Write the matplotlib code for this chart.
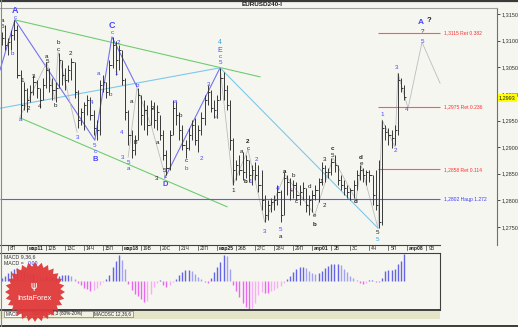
import numpy as np
import matplotlib.pyplot as plt
from matplotlib.patches import Polygon, Rectangle
from matplotlib.transforms import blended_transform_factory

plt.rcParams['font.family'] = ['Liberation Sans', 'DejaVu Sans']

# 4H bars, EURUSD, price * 1e4, first bar index = -2 (day ticks every 6 bars)
first_bar = -2
highs = [13116, 13129, 13105, 13120, 13139, 13129, 13045, 13022, 13011, 13017,
         13035, 13026, 13011, 13030, 13060, 13049, 13030, 13022, 13077, 13064,
         13049, 13054, 13067, 13060, 13007, 12973, 12985, 12998, 12994, 12970,
         12951, 13026, 13035, 13022, 13064, 13107, 13099, 13092, 13082, 13030,
         12970, 12932, 12923, 13011, 12998, 12988, 12979, 12988, 12985, 12979,
         12960, 12932, 12895, 12932, 12988, 12985, 12966, 12942, 12913, 12936,
         12951, 12955, 12942, 12966, 12998, 13017, 13007, 12988, 12998, 13049,
         13041, 13017, 12988, 12917, 12876, 12885, 12891, 12885, 12876, 12866,
         12872, 12866, 12857, 12810, 12801, 12804, 12810, 12829, 12819, 12853,
         12848, 12842, 12838, 12835, 12829, 12835, 12823, 12810, 12819, 12829,
         12842, 12872, 12866, 12861, 12880, 12885, 12866, 12848, 12838, 12829,
         12823, 12838, 12857, 12866, 12861, 12857, 12857, 12848, 12857, 12876,
         12951, 12942, 12936, 12932, 12942, 13039, 13030, 13017]
lows = [13092, 13082, 13073, 13082, 13101, 13030, 12955, 12970, 12966, 12985,
        12998, 12992, 12973, 12988, 13011, 13004, 12988, 12985, 13011, 13017,
        13007, 13022, 13026, 12992, 12936, 12942, 12932, 12960, 12951, 12923,
        12913, 12923, 13004, 12992, 12998, 13049, 13035, 13045, 13017, 12951,
        12904, 12880, 12885, 12913, 12942, 12932, 12923, 12942, 12936, 12932,
        12913, 12876, 12848, 12857, 12923, 12942, 12913, 12895, 12880, 12895,
        12913, 12904, 12891, 12923, 12942, 12979, 12966, 12955, 12955, 12988,
        12988, 12970, 12895, 12829, 12838, 12848, 12838, 12842, 12835, 12829,
        12838, 12816, 12782, 12759, 12763, 12778, 12782, 12791, 12759, 12773,
        12810, 12801, 12804, 12801, 12791, 12801, 12778, 12773, 12778, 12801,
        12797, 12829, 12835, 12842, 12848, 12853, 12829, 12819, 12810, 12804,
        12801, 12804, 12819, 12838, 12835, 12829, 12835, 12791, 12782, 12748,
        12754, 12913, 12904, 12898, 12904, 12923, 13004, 12988]
closes = [13105, 13092, 13097, 13111, 13120, 13035, 12979, 13007, 12988, 13004,
          13022, 13011, 12988, 13017, 13045, 13017, 13007, 13011, 13064, 13035,
          13026, 13045, 13060, 13004, 12951, 12966, 12979, 12988, 12960, 12936,
          12932, 13017, 13022, 13004, 13054, 13092, 13064, 13082, 13026, 12966,
          12923, 12895, 12913, 12998, 12960, 12970, 12942, 12973, 12951, 12966,
          12923, 12885, 12861, 12923, 12973, 12960, 12932, 12904, 12898, 12923,
          12942, 12913, 12932, 12955, 12988, 13004, 12973, 12970, 12988, 13030,
          13007, 12979, 12913, 12857, 12866, 12857, 12853, 12876, 12848, 12857,
          12848, 12829, 12801, 12773, 12791, 12797, 12801, 12816, 12773, 12842,
          12835, 12819, 12829, 12810, 12816, 12823, 12791, 12801, 12810, 12819,
          12835, 12861, 12853, 12853, 12872, 12866, 12838, 12829, 12823, 12816,
          12819, 12829, 12848, 12857, 12848, 12853, 12848, 12810, 12791, 12759,
          12936, 12928, 12923, 12917, 12932, 13026, 13011, 12994]

# MACD histogram (x1e-5)
macd_hist = [3, 5, 8, 10, 12, 13, 12, 10, 8, 7,
             7, 6, 5, 4, 5, 4, 4, 4, 5, 6,
             6, 6, 5, 2, -2, -4, -7, -8, -10, -9,
             -7, -4, -1, 2, 6, 14, 20, 26, 21, 12,
             -3, -9, -13, -15, -18, -21, -20, -13, -6, -2,
             1, -4, -6, -4, -1, 2, 6, 9, 11, 11,
             10, 7, 4, 2, -1, -2, 3, 9, 14, 19,
             26, 25, 12, -4, -10, -16, -22, -26, -29, -27,
             -22, -14, -11, -12, -12, -10, -9, -7, -5, -2,
             2, 5, 9, 12, 14, 14, 13, 10, 8, 7,
             8, 10, 13, 15, 17, 17, 17, 16, 12, 9,
             5, 3, 1, -2, -3, -2, 1, 1, -1, -1,
             3, 10, 11, 11, 12, 17, 20, 27]

price_ticks = [1.2750, 1.2800, 1.2850, 1.2900, 1.2950, 1.3000, 1.3050, 1.3100, 1.3150]
last_price = 1.2993

day_labels = ["8П", "мар11", "12В", "13С", "14Ч", "15П", "мар18", "19В", "20С", "21Ч",
              "22П", "мар25", "26В", "27С", "28Ч", "29П", "апр01", "2В", "3С", "4Ч",
              "5П", "апр08", "9В"]
bars_per_day = 6

fib_levels = [1.3115, 1.2975, 1.2858]
fib_names = ["1,3115 Ret 0.382", "1,2975 Ret 0.236", "1,2858 Ret 0.114"]
ext_level = 1.2802
ext_name = "1,2802 Нацр 1.272"

# wave lines (bar, price*1e4)
green_lines = [[(2.2, 13139), (79.5, 13032)], [(3.8, 12955), (69.1, 12788)]]
cyan_lines = [[(-2.5, 12973), (66.9, 13049)], [(66.9, 13049), (116.7, 12748)]]
blue_lines = [[(-2.5, 13045), (2.2, 13139), (27.4, 12913), (32.8, 13107), (40.7, 13013)],
              [(49.5, 12842), (66.9, 13049)]]
gray_lines = [[(3.8, 12957), (12.3, 13060), (14.8, 12988), (15.8, 13079), (21.8, 12928)],
              [(37.9, 12881), (40.7, 13011), (45.4, 12936), (49.5, 12848)],
              [(66.9, 13049), (71, 12829), (75.7, 12895), (81, 12759), (87.4, 12848),
               (96.8, 12773), (102.5, 12880), (109.8, 12801), (111.4, 12866), (116.7, 12748)],
              [(116.7, 12748), (118, 12951), (122.1, 12900), (123, 13039), (126.2, 12973),
               (130.6, 13097), (136.3, 13020)]]

# wave labels: bar, price*1e4, text, colour, size, bold
BL, BK, CY, PK = '#4646ff', '#202020', '#30a8e0', '#ff50ff'
wave_labels = [
    (2.2, 13156, "A", BL, 6.5, True), (2.2, 13144, "c", BL, 4.5, False),
    (-1.6, 13137, "a", BK, 4.5, False), (-1.6, 13127, "5", BK, 4.5, False),
    (1.3, 13075, "b", BL, 4.5, False), (4.1, 12951, "a", BL, 4.5, False),
    (4.4, 13026, "1", BK, 4.5, False), (6.3, 12973, "2", BK, 4.5, False),
    (8.2, 13032, "3", BK, 4.5, False), (10.1, 12977, "4", BK, 4.5, False),
    (12.3, 13071, "a", BK, 4.5, False), (12.3, 13060, "5", BK, 4.5, False),
    (14.8, 12979, "b", BK, 4.5, False), (15.8, 13097, "b", BK, 4.5, False),
    (15.8, 13084, "c", BK, 4.5, False), (19.6, 13075, "2", BK, 4.5, False),
    (21.8, 12919, "3", BL, 4.5, False), (26.5, 12983, "4", BL, 4.5, False),
    (27.4, 12904, "5", BL, 4.5, False), (27.4, 12891, "c", BL, 4.5, False),
    (27.4, 12876, "B", BL, 5.5, True), (28.4, 13039, "a", BL, 4.5, False),
    (32.2, 12998, "b", BL, 4.5, False), (32.8, 13129, "C", BL, 6.5, True),
    (32.8, 13116, "c", BL, 4.5, False), (34.1, 13039, "1", BL, 4.5, False),
    (34.7, 13096, "2", BL, 4.5, False), (36.0, 12928, "4", BL, 4.5, False),
    (36.0, 12881, "3", BL, 4.5, False), (37.9, 12872, "5", BL, 4.5, False),
    (37.9, 12859, "a", BL, 4.5, False), (40.7, 13015, "b", BL, 4.5, False),
    (40.2, 12908, "b", BK, 4.5, False), (39.1, 12985, "a", BK, 4.5, False),
    (45.7, 12973, "2", BK, 4.5, False), (47.3, 12908, "a", BK, 4.5, False),
    (47.0, 12842, "3", BK, 4.5, False), (49.5, 12857, "5", BK, 4.5, False),
    (49.5, 12844, "c", BL, 4.5, False), (49.5, 12829, "D", BL, 5.5, True),
    (52.7, 12985, "a", BL, 4.5, False), (54.3, 12960, "b", BK, 4.5, False),
    (56.2, 12874, "c", BK, 4.5, False), (56.2, 12859, "b", BL, 4.5, False),
    (60.9, 12878, "2", BL, 4.5, False), (65.9, 12955, "4", BL, 4.5, False),
    (63.1, 13017, "3", BL, 4.5, False), (66.9, 13096, "4", CY, 5, False),
    (66.9, 13082, "E", BL, 5, False), (66.9, 13070, "c", BL, 4.5, False),
    (66.9, 13059, "5", BL, 4.5, False), (71.0, 12819, "1", BK, 4.5, False),
    (73.8, 12891, "a", BK, 4.5, False), (75.7, 12910, "2", BK, 4.5, True),
    (75.7, 12898, "c", BK, 4.5, False), (74.8, 12835, "b", BK, 4.5, True),
    (76.3, 12835, "1", BL, 4.5, False), (78.5, 12876, "2", BL, 4.5, False),
    (81.0, 12742, "3", BL, 4.5, False), (86.1, 12746, "5", BL, 4.5, False),
    (86.1, 12733, "a", BK, 4.5, False), (85.2, 12823, "4", BL, 4.5, False),
    (89.3, 12819, "1", PK, 4.5, False), (87.4, 12855, "a", BK, 4.5, True),
    (89.9, 12846, "b", BK, 4.5, False), (91.0, 12797, "c", BK, 4.5, False),
    (95.0, 12827, "d", BK, 4.5, False), (96.8, 12771, "e", BK, 4.5, False),
    (96.8, 12754, "b", BK, 4.5, True), (98.7, 12835, "1", BK, 4.5, False),
    (99.7, 12791, "2", BK, 4.5, False), (100.0, 12876, "3", BK, 4.5, False),
    (102.5, 12898, "c", BK, 4.5, True), (102.5, 12885, "5", BK, 4.5, False),
    (109.8, 12797, "d", BK, 4.5, True), (111.4, 12881, "d", BK, 4.5, True),
    (111.4, 12870, "e", BK, 4.5, False), (116.7, 12739, "5", BK, 4.5, False),
    (116.7, 12726, "5", CY, 4.5, False), (118.0, 12962, "1", BL, 4.5, False),
    (122.1, 12893, "2", BL, 4.5, False), (122.7, 13049, "3", BL, 4.5, False),
    (125.9, 12970, "4", BL, 4.5, False), (130.6, 13099, "5", BL, 4.5, False),
    (130.6, 13118, "?", BK, 4.5, False), (130.3, 13135, "A", BL, 6, True),
    (132.8, 13137, "?", BK, 5.5, True),
]

W, H = 518, 327
fig = plt.figure(figsize=(W / 100, H / 100), dpi=100)
bg = '#f6f6f1'
fig.patch.set_facecolor(bg)

# ---------------- main price panel ----------------
ax = fig.add_axes([0, 1 - 245 / H, 497 / W, (245 - 8) / H])
ax.patch.set_visible(False)
ax.set_xlim(-2.52, 154.26)
ax.set_ylim(1.27162, 1.31613)

bars = np.arange(len(highs)) + first_bar
hi = np.array(highs) / 1e4
lo = np.array(lows) / 1e4
cl = np.array(closes) / 1e4
ax.vlines(bars, lo, hi, color='#383838', lw=0.7, zorder=3)
ax.hlines(cl, bars, bars + 0.7, color='#383838', lw=0.7, zorder=3)

for seg in green_lines:
    xs, ys = zip(*seg)
    ax.plot(xs, np.array(ys) / 1e4, color='#70cc70', lw=0.8, zorder=2)
for seg in cyan_lines:
    xs, ys = zip(*seg)
    ax.plot(xs, np.array(ys) / 1e4, color='#7cc8ea', lw=0.8, zorder=2)
for seg in blue_lines:
    xs, ys = zip(*seg)
    ax.plot(xs, np.array(ys) / 1e4, color='#7474ee', lw=0.8, zorder=2)
for seg in gray_lines:
    xs, ys = zip(*seg)
    ax.plot(xs, np.array(ys) / 1e4, color='#bcbcbc', lw=0.6, zorder=2)

# fib levels
fib_x0, fib_x1, lab_x = 116.7, 136.3, 137.6
for lvl, name in zip(fib_levels, fib_names):
    ax.hlines(lvl, fib_x0, fib_x1, color='#ff5a5a', lw=0.8, zorder=2)
    ax.text(lab_x, lvl, name, color='#ff3030', fontsize=3.6, va='center', ha='left')
ax.hlines(ext_level, -2.52, fib_x1, color='#5a5aff', lw=0.8, zorder=2)
ax.text(lab_x, ext_level, ext_name, color='#3c3cff', fontsize=3.6, va='center', ha='left')

for bx, py, txt, col, size, bold in wave_labels:
    ax.text(bx, py / 1e4, txt, color=col, fontsize=size, ha='center', va='center',
            fontweight='bold' if bold else 'normal', zorder=4, clip_on=False)

# price axis
for s in ['left', 'bottom']:
    ax.spines[s].set_visible(False)
ax.spines['top'].set_color('#a0a0a0')
ax.spines['top'].set_linewidth(0.8)
ax.spines['right'].set_color('#707070')
ax.spines['right'].set_linewidth(0.8)
ax.yaxis.tick_right()
ax.set_yticks(price_ticks)
ax.set_yticklabels([f"{p:.4f}".replace('.', ',') for p in price_ticks])
ax.tick_params(axis='y', length=2, width=0.6, pad=1, labelsize=4, colors='#303030')
ax.set_xticks([])
ax.text(1.004, last_price, f"{last_price:.4f}".replace('.', ','),
        transform=blended_transform_factory(ax.transAxes, ax.transData),
        fontsize=4, color='#202020', va='center', ha='left', zorder=6,
        bbox=dict(boxstyle='square,pad=0.25', fc='#ffff00', ec='none'))

# date axis
tr = blended_transform_factory(ax.transData, ax.transAxes)
ax.plot([-2.52, 136.3], [0, 0], transform=tr, color='#404040', lw=0.8, clip_on=False)
for k, lbl in enumerate(day_labels):
    xb = k * bars_per_day
    ax.plot([xb, xb], [0, -0.022], transform=tr, color='#404040', lw=0.5, clip_on=False)
    ax.text(xb + 0.6, -0.016, lbl, transform=tr, fontsize=3.6, ha='left', va='center',
            color='#202020', fontweight='bold' if lbl[0] in 'ма' else 'normal')

fig.text(262 / W, 1 - 4.5 / H, "EURUSD240-I", fontsize=4.6, fontweight='bold',
         ha='center', va='center', color='#202020')

# ---------------- MACD panel ----------------
ax2 = fig.add_axes([0, 1 - 310 / H, 440 / W, 57 / H])
ax2.patch.set_visible(False)
ax2.set_xlim(-2.52, 136.3)
ax2.set_ylim(-29, 28)
mh = np.array(macd_hist, dtype=float)
prev = np.concatenate([[mh[0]], mh[:-1]])
cols = []
for v, pv in zip(mh, prev):
    if v >= 0:
        cols.append('#6464e6' if v >= pv else '#a2a2f2')
    else:
        cols.append('#e868ee' if v <= pv else '#f6aef6')
ax2.vlines(bars, 0, mh, colors=cols, lw=1.0)
ax2.set_xticks([])
ax2.set_yticks([])
for s in ax2.spines.values():
    s.set_color('#404040')
    s.set_linewidth(0.8)
ax2.spines['left'].set_visible(False)
ax2.spines['bottom'].set_linewidth(1.4)
ax2.text(0.01, 0.93, "MACD 9,36,6", transform=ax2.transAxes, fontsize=3.8,
         color='#303030', va='center', ha='left')
ax2.text(0.01, 0.82, "MACD = ", transform=ax2.transAxes, fontsize=3.8,
         color='#303030', va='center', ha='left')
ax2.text(0.062, 0.82, "0.00", transform=ax2.transAxes, fontsize=3.8,
         color='#3030ff', va='center', ha='left')

# ---------------- overlay: tabs, frame, logo ----------------
ov = fig.add_axes([0, 0, 1, 1])
ov.set_xlim(0, W)
ov.set_ylim(H, 0)
ov.axis('off')
ov.patch.set_visible(False)
ov.add_patch(Rectangle((0, 310.5), 440, 8, fc='#e4e4c8', ec='none'))
tabs = [("MACD", 4, 22, '#ffffff'), ("Stoch 13,3,3 (80%-20%)", 22, 93, '#f2f2e4'),
        ("MACDSC 12,36,6", 93, 133, '#f2f2e4')]
for name, x0, x1, fc in tabs:
    ov.add_patch(Rectangle((x0, 311), x1 - x0, 6, fc=fc, ec='#606060', lw=0.4))
    ov.text((x0 + x1) / 2, 314, name, fontsize=3.3, ha='center', va='center', color='#202020')
ov.plot([0, W], [0.8, 0.8], color='#3a3a3a', lw=1.6)
ov.plot([0, W], [325.8, 325.8], color='#3a3a3a', lw=1.4)
ov.plot([0.5, 0.5], [0, H], color='#8a8a8a', lw=0.8)

# InstaForex badge
n_pts = 28
ang = np.linspace(0, 2 * np.pi, 2 * n_pts, endpoint=False)
rad = np.where(np.arange(2 * n_pts) % 2 == 0, 30, 25.5)
cx, cy = 35, 292
ov.add_patch(Polygon(np.c_[cx + rad * np.cos(ang), cy + rad * np.sin(ang)],
                     closed=True, fc='#e0393a', ec='none', alpha=0.95, zorder=5))
ov.text(cx, cy + 6, "InstaForex", fontsize=5.2, color='white', ha='center', va='center', zorder=6)
ov.text(cx - 1, cy - 6, "ψ", fontsize=7, color='white', ha='center', va='center', zorder=6,
        family='DejaVu Sans')

fig.savefig('out.png', dpi=100, facecolor=bg)
